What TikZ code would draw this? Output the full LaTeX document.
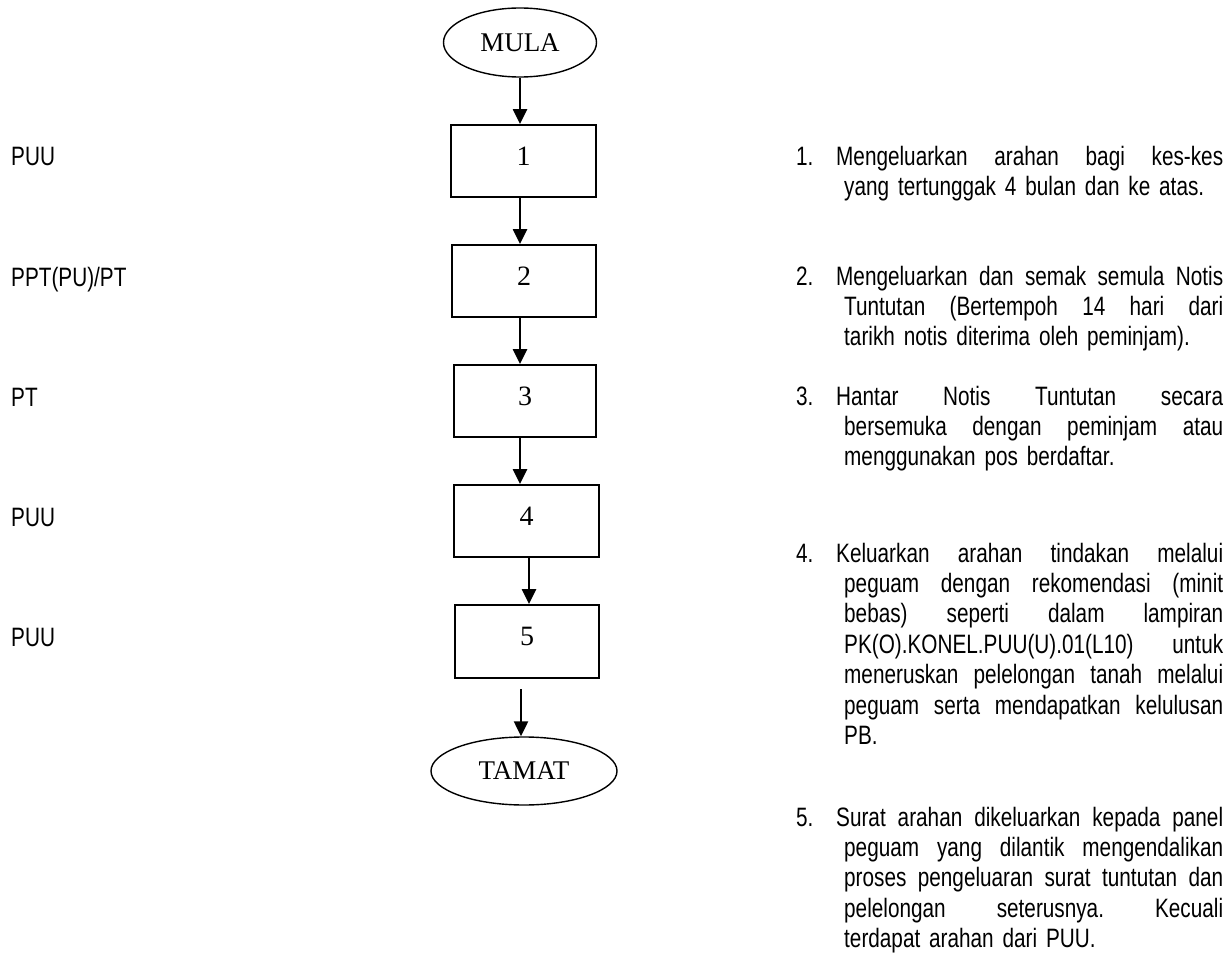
\documentclass[tikz,border=0pt]{standalone}
\usepackage{fontspec}
\setmainfont{Liberation Serif}
\newfontfamily\narrowsans[FakeStretch=0.78]{Liberation Sans}
\usetikzlibrary{arrows.meta,shapes.geometric}

% a line whose interword spaces stretch to fill the given width
\newcommand\spreadline[2]{\hbox to #1{\spaceskip=\fontdimen2\font plus 1fil\relax
  \xspaceskip=\spaceskip #2}}
% one numbered first line, justified to the column edge
\newcommand\itemhead[2]{\hbox to 40pt{#1\hfil}\spreadline{387pt}{#2}}
% an indented continuation line, justified
\newcommand\jline[1]{\hspace*{48pt}\spreadline{379pt}{#1}}
% the last, ragged line of an item
\newcommand\tailline[1]{\hspace*{48pt}#1}

\tikzset{
  terminal/.style={ellipse, draw, line width=1.4pt, minimum width=153pt,
    minimum height=69pt, inner sep=0pt, font=\fontsize{27}{30}\selectfont},
  stepbox/.style={rectangle, draw, line width=1.8pt, minimum width=144pt,
    minimum height=72pt, inner sep=0pt, text height=10pt, text depth=2pt,
    font=\fontsize{28}{30}\selectfont},
  flow/.style={line width=2.3pt, -{Triangle[length=15pt,width=14pt]}},
  role/.style={anchor=base west, inner sep=0pt,
    font=\narrowsans\fontsize{26.6}{30.4}\selectfont},
  note/.style={anchor=base west, inner sep=0pt, text width=430pt, align=left,
    font=\narrowsans\fontsize{26.6}{30.4}\selectfont},
}

\begin{document}
\begin{tikzpicture}[x=1pt,y=-1pt]
  \fill[white] (0,0) rectangle (1232,963);
  \useasboundingbox (0,0) rectangle (1232,963);

  % flow chart column
  \node[terminal] (mula) at (520,42.5) {MULA};
  \node[stepbox, minimum width=145pt] (b1) at (523.5,161) {1};
  \node[stepbox] (b2) at (524,281) {2};
  \node[stepbox, minimum width=142pt] (b3) at (525,401) {3};
  \node[stepbox, minimum width=145pt] (b4) at (526.5,521) {4};
  \node[stepbox, minimum height=73pt] (b5) at (527,641.5) {5};
  \node[terminal, minimum width=186pt, minimum height=68pt] (tamat) at (524,771) {TAMAT};

  \draw[flow] (mula) -- (mula |- b1.north);
  \draw[flow] (b1.south -| mula) -- (b2.north -| mula);
  \draw[flow] (b2.south -| mula) -- (b3.north -| mula);
  \draw[flow] (b3.south -| mula) -- (b4.north -| mula);
  \draw[flow] ([xshift=2.5pt]b4.south) -- ([xshift=2.5pt]b4.south |- b5.north);
  \coordinate (gap) at (521,689);
  \draw[flow] (gap) -- (gap |- tamat.north);

  % responsible parties
  \node[role] (r1) at (11,166) {PUU};
  \node[role] (r2) at (11,286) {PPT(PU)/PT};
  \node[role] (r3) at (11,406) {PT};
  \node[role] (r4) at (11,526) {PUU};
  \node[role] (r5) at (11,646) {PUU};

  % step descriptions
  \node[note] (n1) at (796,165) {%
    \itemhead{1.}{Mengeluarkan arahan bagi kes-kes}\\
    \tailline{yang tertunggak 4 bulan dan ke atas.}};
  \node[note] (n2) at (796,285) {%
    \itemhead{2.}{Mengeluarkan dan semak semula Notis}\\
    \jline{Tuntutan (Bertempoh 14 hari dari}\\
    \tailline{tarikh notis diterima oleh peminjam).}};
  \node[note] (n3) at (796,405) {%
    \itemhead{3.}{Hantar Notis Tuntutan secara}\\
    \jline{bersemuka dengan peminjam atau}\\
    \tailline{menggunakan pos berdaftar.}};
  \node[note] (n4) at (796,562) {%
    \itemhead{4.}{Keluarkan arahan tindakan melalui}\\
    \jline{peguam dengan rekomendasi (minit}\\
    \jline{bebas) seperti dalam lampiran}\\
    \jline{PK(O).KONEL.PUU(U).01(L10) untuk}\\
    \jline{meneruskan pelelongan tanah melalui}\\
    \jline{peguam serta mendapatkan kelulusan}\\
    \tailline{PB.}};
  \node[note] (n5) at (796,826) {%
    \itemhead{5.}{Surat arahan dikeluarkan kepada panel}\\
    \jline{peguam yang dilantik mengendalikan}\\
    \jline{proses pengeluaran surat tuntutan dan}\\
    \jline{pelelongan seterusnya. Kecuali}\\
    \tailline{terdapat arahan dari PUU.}};
\end{tikzpicture}
\end{document}
